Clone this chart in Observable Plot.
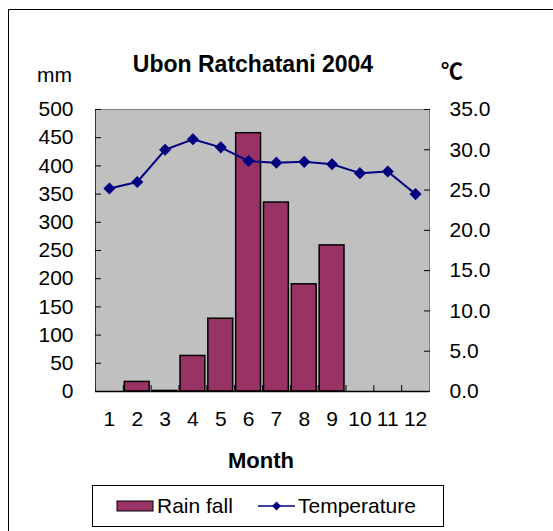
<!DOCTYPE html>
<html><head><meta charset="utf-8">
<script src="https://cdn.jsdelivr.net/npm/d3@7"></script>
<script src="https://cdn.jsdelivr.net/npm/@observablehq/plot@0.6"></script>
<style>body{margin:0;background:#fff}</style>
</head><body><div id="chart"></div>
<script>
const months = [1,2,3,4,5,6,7,8,9,10,11,12];
const rainfall = [0,17,1,63,129,458,335,190,259,0,0,null];
const temperature = [25.2,26.0,30.0,31.3,30.3,28.6,28.4,28.5,28.2,27.1,27.3,24.5];
const mmTicks = [0,50,100,150,200,250,300,350,400,450,500];
const tempTicks = [0,5,10,15,20,25,30,35];
const monthBounds = [1.5,2.5,3.5,4.5,5.5,6.5,7.5,8.5,9.5,10.5,11.5];
const titleText = "Ubon Ratchatani 2004";
const leftUnit = "mm";
const rightUnit = "℃";
const xTitle = "Month";
const seriesNames = ["Rain fall","Temperature"];
const MM_MAX = 500, T_MAX = 35;
const k = MM_MAX / T_MAX;

const rows = months.map((m,i)=>({month:m, rain:rainfall[i], temp:temperature[i]}));
const font = "'Liberation Sans', Arial, sans-serif";

const plot = Plot.plot({
  width:553, height:531,
  marginLeft:95, marginRight:124, marginTop:109, marginBottom:140,
  style:{fontFamily:font, fontSize:"21px", color:"#000", background:"#fff", overflow:"visible"},
  x:{domain:[0.5,12.5]},
  y:{domain:[0,MM_MAX]},
  marks:[
    Plot.frame({fill:"#c0c0c0", stroke:"#808080"}),
    Plot.rectY(rows.filter(d=>d.rain!=null), {x1:d=>d.month-0.5, x2:d=>d.month+0.5, y1:0, y2:"rain",
      insetLeft:1.5, insetRight:1.5, fill:"#993366", stroke:"#000", strokeWidth:1.5}),
    Plot.ruleX([0.5], {stroke:"#333"}),
    Plot.ruleY([0], {stroke:"#000", strokeWidth:1.5}),
    Plot.line(rows, {x:"month", y:d=>d.temp*k, stroke:"#000080", strokeWidth:2}),
    Plot.dot(rows, {x:"month", y:d=>d.temp*k, symbol:"diamond2", r:4.5, fill:"#000080", stroke:"#000080"}),
    Plot.axisY(mmTicks, {anchor:"left", tickSize:-6, tickPadding:28, label:null, fontSize:21}),
    Plot.axisY(tempTicks.map(t=>t*k), {anchor:"right", tickSize:-6, tickPadding:26, label:null, fontSize:21,
      tickFormat:v=>(v/k).toFixed(1)}),
    Plot.axisX(months, {anchor:"bottom", tickSize:0, tickPadding:20, label:null, fontSize:21}),
    Plot.axisX(monthBounds, {anchor:"bottom", tickSize:-6, label:null, tickFormat:()=>""})
  ]
});
document.getElementById("chart").appendChild(plot);

const svg = d3.select(plot);
svg.append("path").attr("d","M8.5,531V9.5H553").attr("fill","none").attr("stroke","#000");
const addText = (t,x,y,size,weight,anchor,fam)=>svg.append("text").text(t).attr("x",x).attr("y",y)
  .attr("font-size",size).attr("font-weight",weight).attr("text-anchor",anchor)
  .attr("font-family",fam||font).attr("fill","#000");
addText(titleText,253,72,23,"bold","middle");
addText(leftUnit,37,82,21,"normal","start");
addText(rightUnit,441,79,22,"bold","start","'Noto Sans CJK JP', 'DejaVu Sans', sans-serif");
addText(xTitle,261,468,22,"bold","middle");

// legend
const lg = svg.append("g");
lg.append("rect").attr("x",92.5).attr("y",485.5).attr("width",351).attr("height",41)
  .attr("fill","#fff").attr("stroke","#000");
lg.append("rect").attr("x",117).attr("y",501).attr("width",36).attr("height",10)
  .attr("fill","#993366").attr("stroke","#000");
addText(seriesNames[0],157,513,21,"normal","start");
lg.append("line").attr("x1",258).attr("x2",295).attr("y1",506).attr("y2",506).attr("stroke","#000080").attr("stroke-width",1.5);
lg.append("path").attr("d",d3.symbol(d3.symbolDiamond2,50)()).attr("transform","translate(276.5,506)").attr("fill","#000080");
addText(seriesNames[1],298,513,21,"normal","start");
</script></body></html>
